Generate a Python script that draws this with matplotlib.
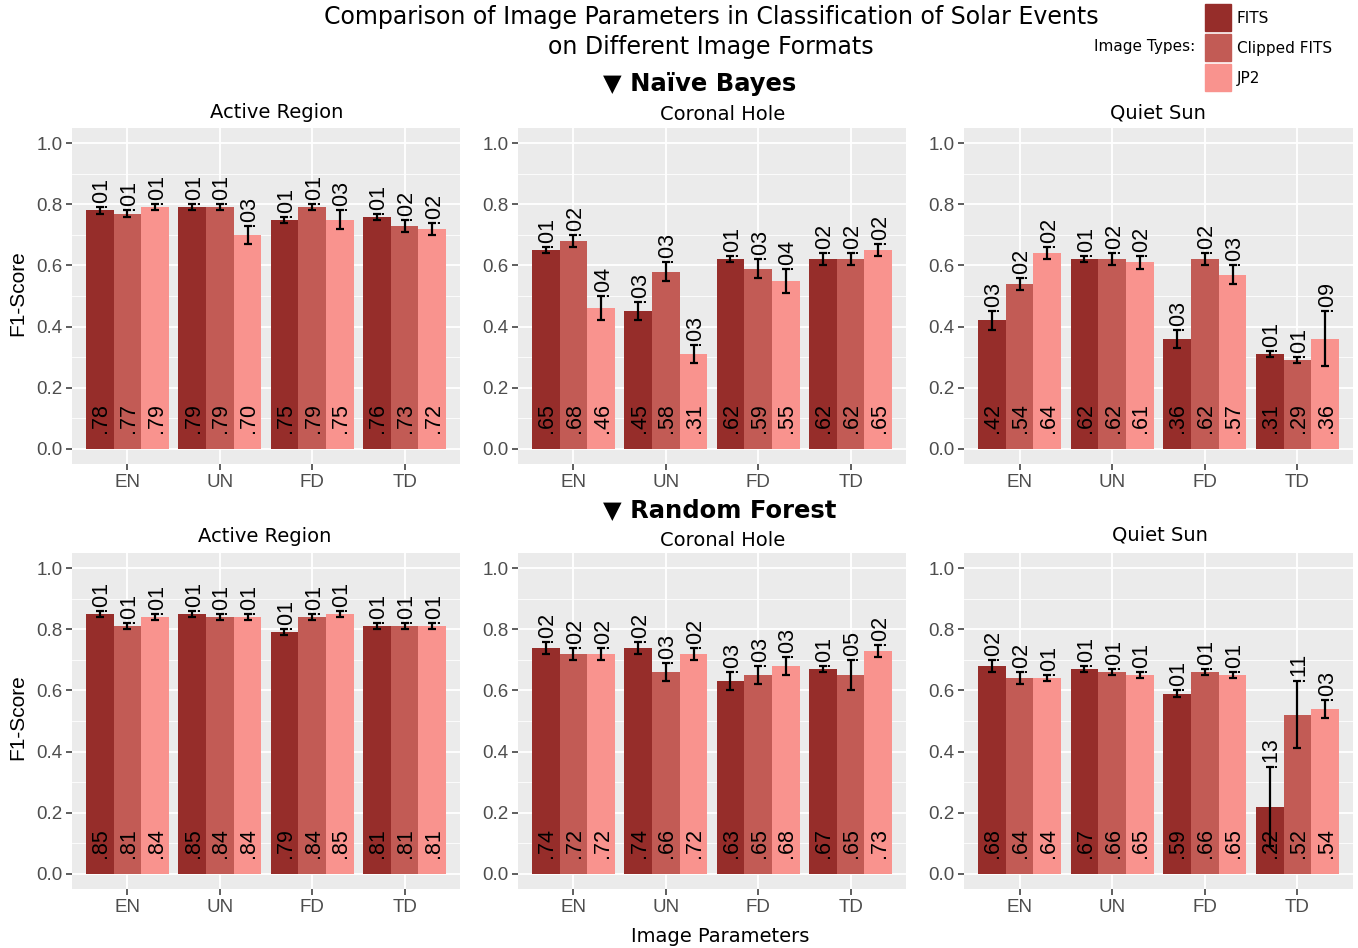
import matplotlib
matplotlib.use('Agg')
import matplotlib.pyplot as plt
from matplotlib.patches import Rectangle

W, H = 1358, 948

categories = ['EN', 'UN', 'FD', 'TD']
image_types = ['FITS', 'Clipped FITS', 'JP2']
colors = ['#962D2A', '#C25B55', '#F9938E']
events = ['Active Region', 'Coronal Hole', 'Quiet Sun']
y_ticks = [0.0, 0.2, 0.4, 0.6, 0.8, 1.0]
y_tick_labels = ['0.0', '0.2', '0.4', '0.6', '0.8', '1.0']

# values per category (EN, UN, FD, TD) -> per image type (FITS, Clipped FITS, JP2)
nb_ar = [[.78, .77, .79], [.79, .79, .70], [.75, .79, .75], [.76, .73, .72]]
nb_ar_err = [[.01, .01, .01], [.01, .01, .03], [.01, .01, .03], [.01, .02, .02]]
nb_ch = [[.65, .68, .46], [.45, .58, .31], [.62, .59, .55], [.62, .62, .65]]
nb_ch_err = [[.01, .02, .04], [.03, .03, .03], [.01, .03, .04], [.02, .02, .02]]
nb_qs = [[.42, .54, .64], [.62, .62, .61], [.36, .62, .57], [.31, .29, .36]]
nb_qs_err = [[.03, .02, .02], [.01, .02, .02], [.03, .02, .03], [.01, .01, .09]]

rf_ar = [[.85, .81, .84], [.85, .84, .84], [.79, .84, .85], [.81, .81, .81]]
rf_ar_err = [[.01, .01, .01], [.01, .01, .01], [.01, .01, .01], [.01, .01, .01]]
rf_ch = [[.74, .72, .72], [.74, .66, .72], [.63, .65, .68], [.67, .65, .73]]
rf_ch_err = [[.02, .02, .02], [.02, .03, .02], [.03, .03, .03], [.01, .05, .02]]
rf_qs = [[.68, .64, .64], [.67, .66, .65], [.59, .66, .65], [.22, .52, .54]]
rf_qs_err = [[.02, .02, .01], [.01, .01, .01], [.01, .01, .01], [.13, .11, .03]]

SANS = 'Liberation Sans'
DJ = 'DejaVu Sans'

fig = plt.figure(figsize=(W / 100, H / 100), dpi=100)
fig.patch.set_facecolor('white')


def fmt(v):
    s = f"{v:.2f}"
    return s[1:] if s.startswith('0') else s


def add_panel(x0, x1, y0, y1):
    return fig.add_axes([x0 / W, 1 - y1 / H, (x1 - x0) / W, (y1 - y0) / H])


def draw(ax, vals, errs):
    ax.set_facecolor('#EBEBEB')
    for s in ax.spines.values():
        s.set_visible(False)
    ax.set_xlim(-0.6, 3.6)
    ax.set_ylim(-0.05, 1.05)
    ax.set_xticks(range(len(categories)))
    ax.set_xticklabels(categories, fontfamily=SANS)
    ax.set_yticks(y_ticks)
    ax.set_yticklabels(y_tick_labels, fontfamily=SANS)
    ax.set_yticks([0.1, 0.3, 0.5, 0.7, 0.9], minor=True)
    ax.tick_params(which='major', color='#333333', length=4, width=1.1,
                   labelcolor='#4D4D4D', labelsize=13.5, pad=3)
    ax.tick_params(which='minor', length=0)
    ax.grid(which='major', color='white', linewidth=1.3)
    ax.grid(which='minor', axis='y', color='white', linewidth=0.6)
    ax.set_axisbelow(True)
    bw = 0.3
    for i, cat in enumerate(categories):
        for j in range(len(image_types)):
            x = i + (j - 1) * bw
            v = vals[i][j]
            e = errs[i][j]
            ax.bar(x, v, width=bw, color=colors[j], linewidth=0, zorder=2)
            ax.errorbar(x, v, yerr=e, fmt='none', ecolor='black', elinewidth=1.6,
                        capsize=2.6, capthick=1.6, zorder=3)
            ax.text(x + 0.01, v + e, fmt(e), rotation=90, ha='center', va='bottom',
                    fontsize=15.5, fontfamily=SANS, color='black', zorder=4)
            ax.text(x + 0.01, 0.1, fmt(v), rotation=90, ha='center', va='center',
                    fontsize=15.5, fontfamily=SANS, color='black', zorder=4)


cols = [(72, 460), (518, 906), (964, 1353)]
rows = [(128, 464), (553, 889)]
data = [[(nb_ar, nb_ar_err), (nb_ch, nb_ch_err), (nb_qs, nb_qs_err)],
        [(rf_ar, rf_ar_err), (rf_ch, rf_ch_err), (rf_qs, rf_qs_err)]]

for r, (y0, y1) in enumerate(rows):
    for c, (x0, x1) in enumerate(cols):
        ax = add_panel(x0, x1, y0, y1)
        v, e = data[r][c]
        draw(ax, v, e)

# facet titles
title_pos = [[(277, 113), (723, 115), (1158, 113)],
             [(265, 537), (723, 540), (1160, 535)]]
for r in range(2):
    for c in range(3):
        x, y = title_pos[r][c]
        fig.text(x / W, 1 - y / H, events[c], ha='center', va='center',
                 fontsize=14, fontfamily=DJ, color='black')

# y labels
for yc in [293, 717]:
    fig.text(18 / W, 1 - yc / H, 'F1-Score', rotation=90, ha='center', va='center',
             fontsize=15, fontfamily=SANS, color='black')

# x label
fig.text(720 / W, 1 - 936 / H, 'Image Parameters', ha='center', va='center',
         fontsize=14, fontfamily=DJ, color='black')

# main title
fig.text(711 / W, 1 - 17 / H, 'Comparison of Image Parameters in Classification of Solar Events',
         ha='center', va='center', fontsize=17, fontfamily=DJ)
fig.text(711 / W, 1 - 47 / H, 'on Different Image Formats',
         ha='center', va='center', fontsize=17, fontfamily=DJ)

# section headers
fig.text(700 / W, 1 - 84 / H, '\u25BC Na\u00efve Bayes', ha='center', va='center',
         fontsize=17.5, fontweight='bold', fontfamily=DJ)
fig.text(720 / W, 1 - 510 / H, '\u25BC Random Forest', ha='center', va='center',
         fontsize=17.5, fontweight='bold', fontfamily=DJ)

# legend
fig.text(1195 / W, 1 - 47 / H, 'Image Types:', ha='right', va='center',
         fontsize=11, fontfamily=DJ)
sw_y = [(4, 31), (34, 61), (64, 91)]
for j, name in enumerate(image_types):
    ya, yb = sw_y[j]
    fig.patches.append(Rectangle((1205 / W, 1 - yb / H), 26 / W, (yb - ya) / H,
                                 transform=fig.transFigure, color=colors[j]))
    fig.text(1237 / W, 1 - ((ya + yb) / 2 + 1) / H, name, ha='left', va='center',
             fontsize=11, fontfamily=DJ)

fig.savefig('out.png', dpi=100)
